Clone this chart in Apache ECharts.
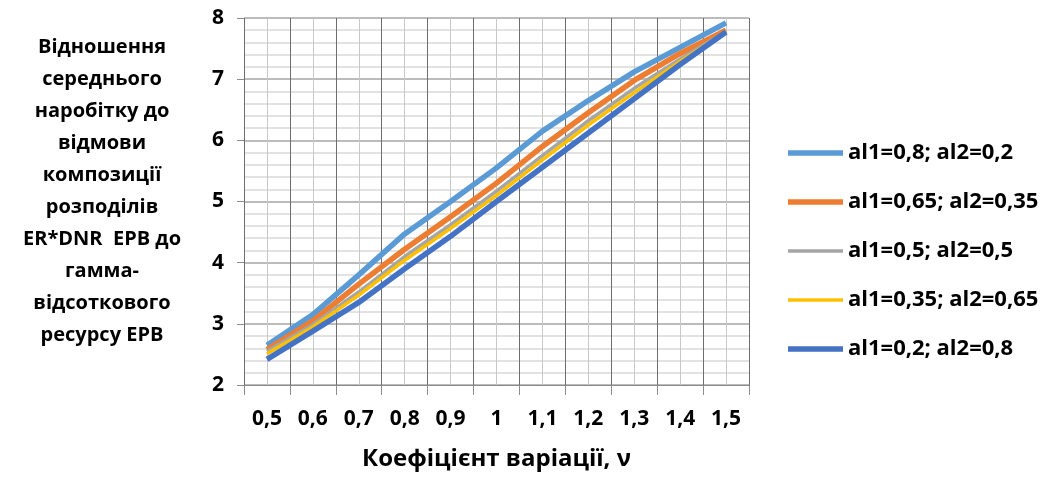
<!DOCTYPE html>
<html>
<head>
<meta charset="utf-8">
<script src="https://cdn.jsdelivr.net/npm/echarts@6/dist/echarts.min.js"></script>
<style>
html,body{margin:0;padding:0;background:#fff;}
#chart{width:1060px;height:477px;}
</style>
</head>
<body>
<div id="chart"></div>
<script>
// ---- data ----
var categories = ['0,5','0,6','0,7','0,8','0,9','1','1,1','1,2','1,3','1,4','1,5'];
var seriesNames = ['al1=0,8; al2=0,2','al1=0,65; al2=0,35','al1=0,5; al2=0,5','al1=0,35; al2=0,65','al1=0,2; al2=0,8'];
var s1 = [2.65, 3.15, 3.80, 4.47, 5.00, 5.55, 6.15, 6.65, 7.12, 7.52, 7.92];
var s2 = [2.58, 3.05, 3.65, 4.22, 4.75, 5.30, 5.90, 6.45, 6.98, 7.42, 7.80];
var s3 = [2.55, 2.99, 3.52, 4.10, 4.62, 5.17, 5.75, 6.32, 6.85, 7.33, 7.78];
var s4 = [2.51, 2.95, 3.47, 4.04, 4.56, 5.10, 5.68, 6.25, 6.78, 7.29, 7.77];
var s5 = [2.42, 2.88, 3.35, 3.90, 4.43, 5.00, 5.56, 6.12, 6.68, 7.24, 7.77];
var yTitleLines = ['Відношення','середнього','наробітку до','відмови','композиції','розподілів','ER*DNR  ЕРВ до','гамма-','відсоткового','ресурсу ЕРВ'];
var xTitle = 'Коефіцієнт варіації, ν';

var colors = ['#5B9BD5','#ED7D31','#A5A5A5','#FFC000','#4472C4'];
var widths = [5.5, 5.5, 3.5, 3.5, 5.5];
var allData = [s1, s2, s3, s4, s5];

// helper axis for vertical grid lines at boundaries and category centres
var halfCats = [];
for (var i = 0; i < categories.length * 2; i++) halfCats.push(String(i));

var FONT = '"Open Sans", sans-serif';

function legendIcon(w) {
  var h = 14, y0 = (h - w) / 2, y1 = y0 + w;
  return 'path://M0,0L0.01,0M0,' + y0 + 'L55,' + y0 + 'L55,' + y1 + 'L0,' + y1 + 'ZM55,' + h + 'L54.99,' + h;
}

var chart = echarts.init(document.getElementById('chart'), null, {renderer: 'canvas'});
var series = allData.map(function (d, i) {
  return {
    name: seriesNames[i],
    type: 'line',
    data: d,
    xAxisIndex: 0,
    symbol: 'none',
    showSymbol: false,
    lineStyle: {color: colors[i], width: widths[i]},
    itemStyle: {color: colors[i]},
    z: 3 + i
  };
});

chart.setOption({
  animation: false,
  backgroundColor: '#ffffff',
  grid: {left: 244, right: 311, top: 18, bottom: 92, containLabel: false},
  legend: {
    orient: 'vertical',
    left: 788,
    top: 142,
    padding: 0,
    itemWidth: 55,
    itemHeight: 14,
    itemGap: 27,
    textStyle: {fontFamily: FONT, fontWeight: 'bold', fontSize: 22, lineHeight: 22, color: '#000'},
    data: seriesNames.map(function (n, i) {
      return {name: n, icon: legendIcon(widths[i]), itemStyle: {color: colors[i]}};
    })
  },
  xAxis: [
    {
      type: 'category',
      data: categories,
      boundaryGap: true,
      axisLine: {show: true, lineStyle: {color: '#8c8c8c', width: 1}},
      axisTick: {show: true, length: 10, lineStyle: {color: '#8c8c8c'}},
      axisLabel: {margin: 24, fontFamily: FONT, fontWeight: 'bold', fontSize: 21, color: '#000'},
      splitLine: {show: false},
      name: xTitle,
      nameLocation: 'middle',
      nameGap: 62,
      nameTextStyle: {fontFamily: FONT, fontWeight: 'bold', fontSize: 24, color: '#000'}
    },
    {
      type: 'category',
      data: halfCats,
      boundaryGap: true,
      position: 'bottom',
      axisLine: {show: false},
      axisTick: {show: false},
      axisLabel: {show: false},
      splitLine: {show: true, lineStyle: {color: ['#6e6e6e', '#c8c8c8'], width: 1}}
    }
  ],
  yAxis: {
    type: 'value',
    min: 2,
    max: 8,
    interval: 1,
    axisLine: {show: false},
    axisTick: {show: true, length: 7, lineStyle: {color: '#8c8c8c'}},
    axisLabel: {margin: 20, fontFamily: FONT, fontWeight: 'bold', fontSize: 21, color: '#000'},
    splitLine: {show: true, lineStyle: {color: '#a6a6a6', width: 1.5}},
    minorTick: {show: false, splitNumber: 5},
    minorSplitLine: {show: true, lineStyle: {color: '#d9d9d9', width: 1.5}}
  },
  graphic: [{
    type: 'text',
    x: 102,
    y: 31,
    style: {
      text: yTitleLines.join('\n'),
      fontFamily: FONT,
      fontWeight: 'bold',
      fontSize: 20,
      lineHeight: 32,
      fill: '#000',
      align: 'center',
      textAlign: 'center'
    }
  }],
  series: series
});
</script>
</body>
</html>
